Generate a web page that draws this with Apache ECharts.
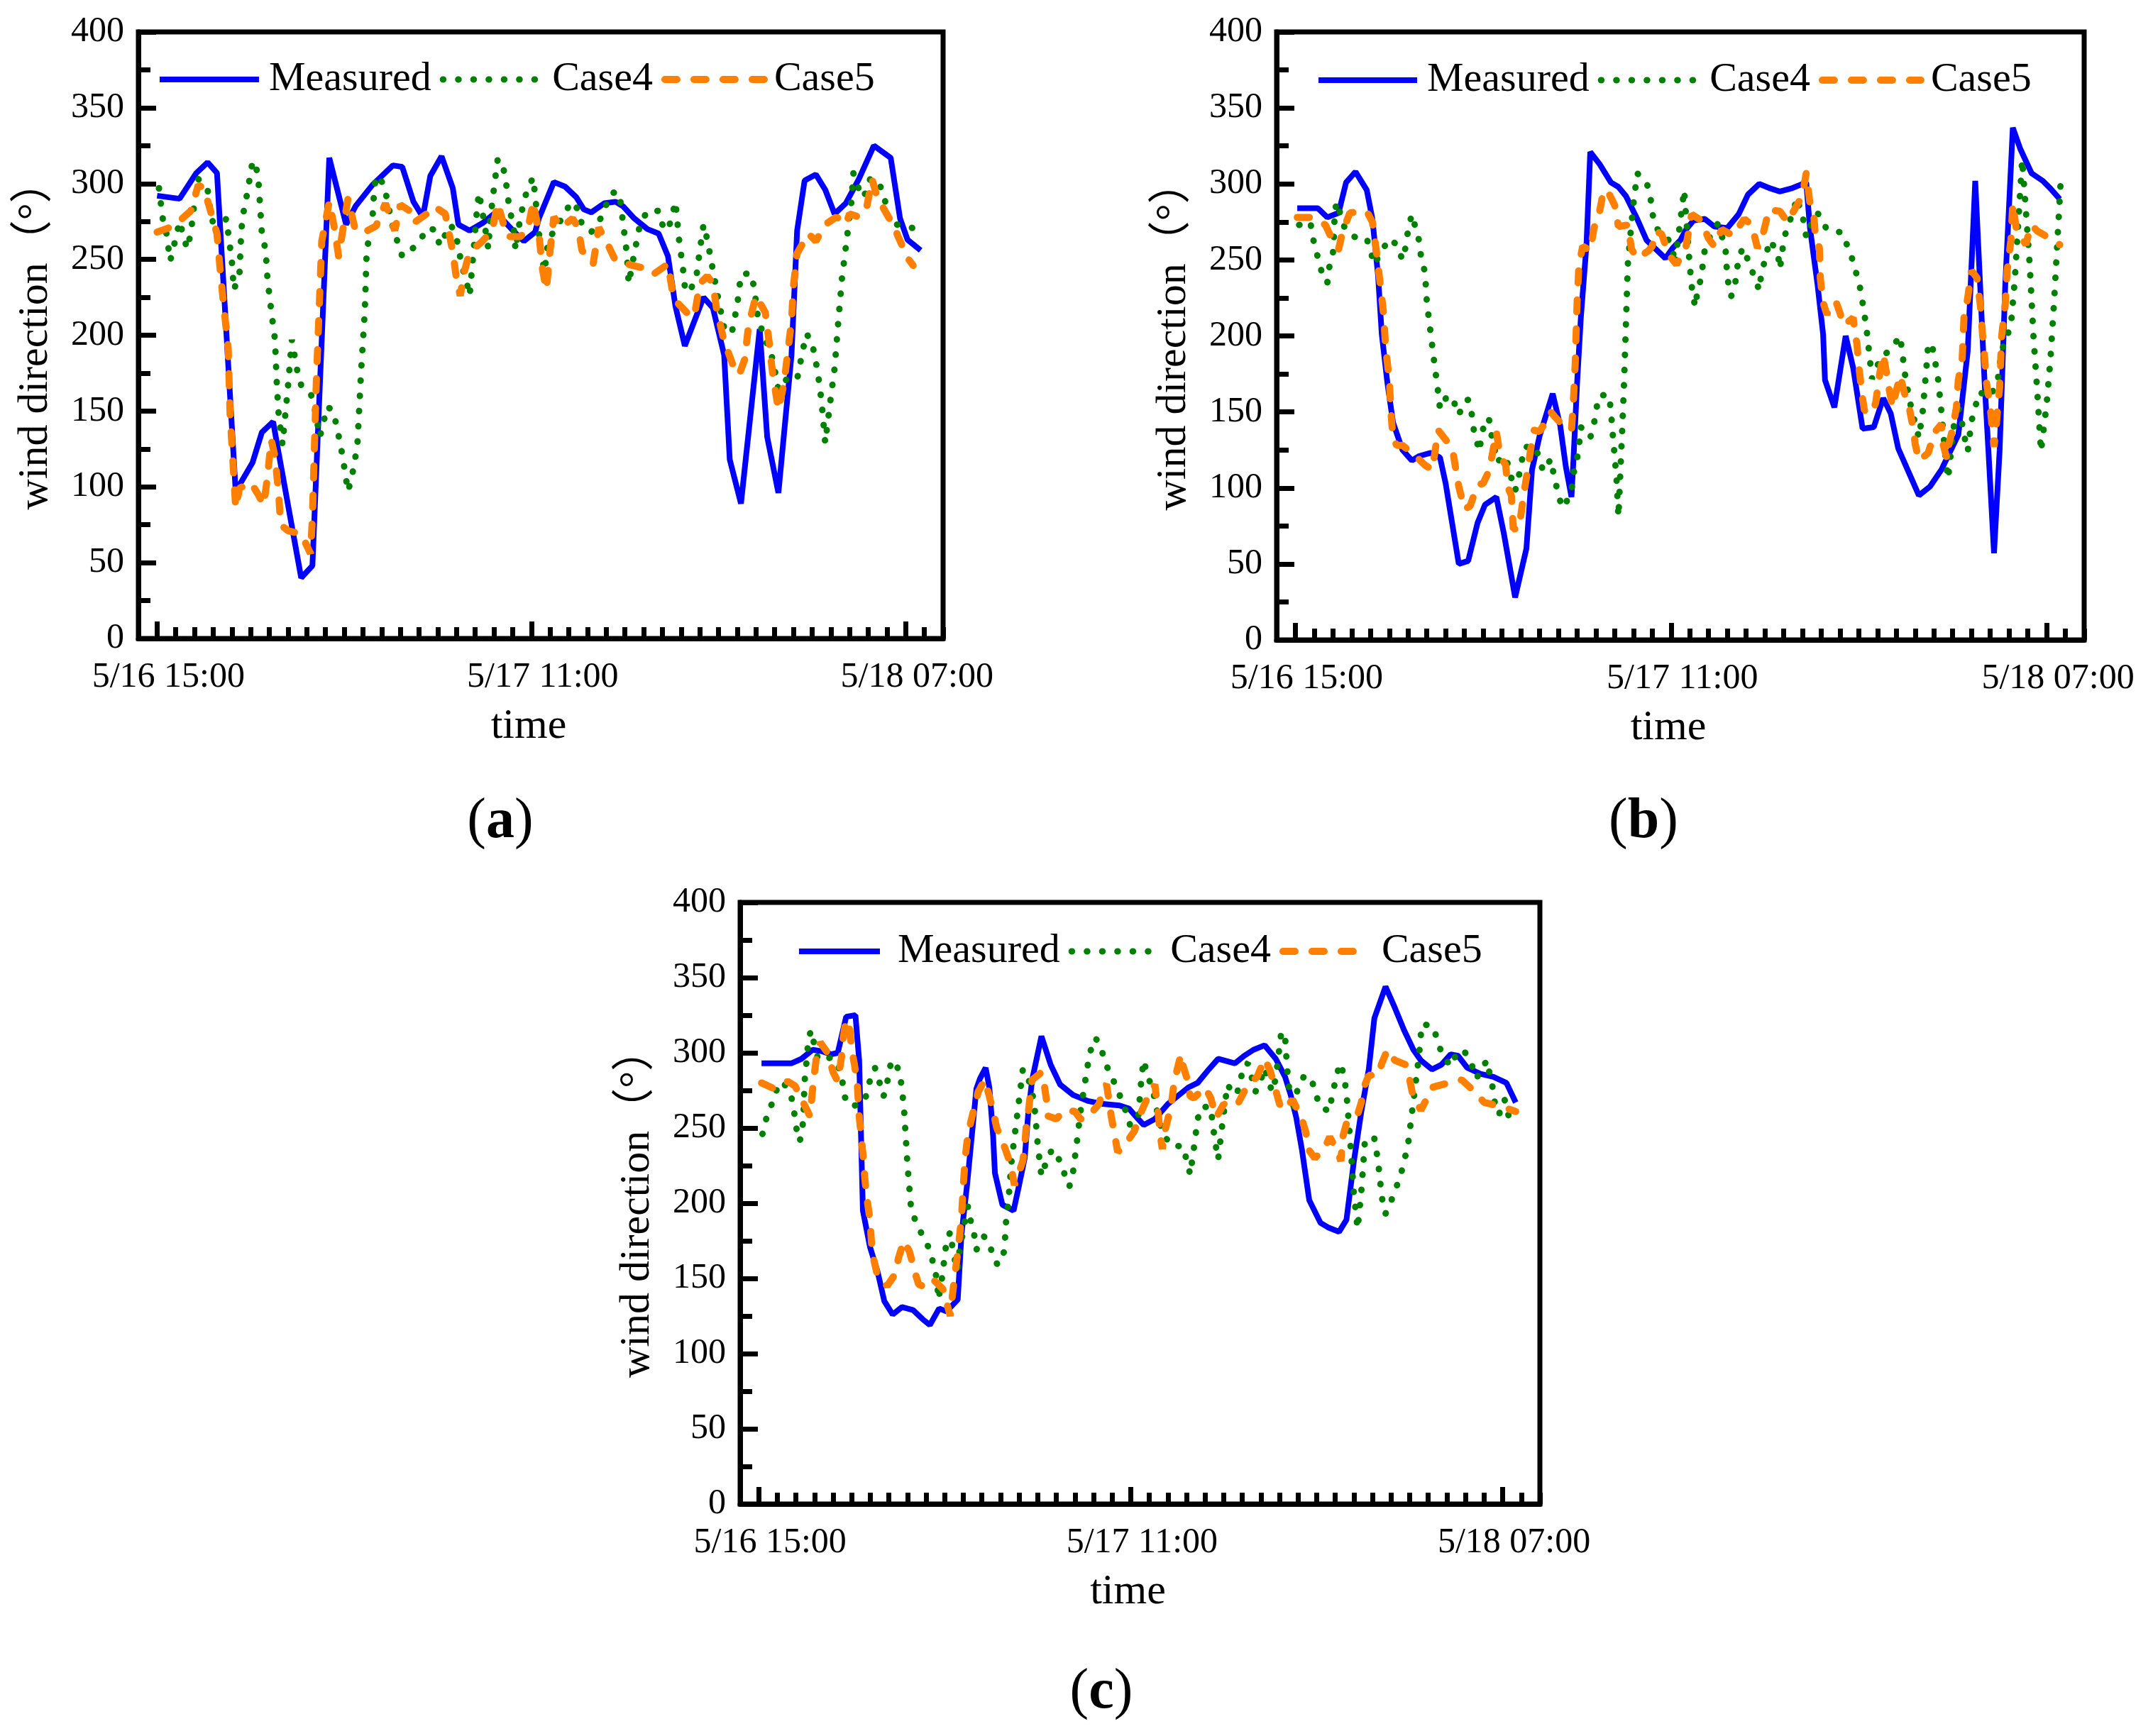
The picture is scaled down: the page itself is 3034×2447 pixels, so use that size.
<!DOCTYPE html>
<html lang="en">
<head>
<meta charset="UTF-8">
<title>wind direction</title>
<script src="https://cdn.jsdelivr.net/npm/echarts@6.0.0/dist/echarts.min.js"></script>
<style>
  html, body { margin: 0; padding: 0; background: #fff; }
  #main { width: 3034px; height: 2447px; }
</style>
</head>
<body>
<div id="main"></div>
<script type="text/javascript">
// x = hours after 5/16 15:00, y = wind direction (deg)
var seriesNames = ['Measured', 'Case4', 'Case5'];
var timeTickHours = [0, 20, 40];
var timeTickLabels = ['5/16 15:00', '5/17 11:00', '5/18 07:00'];
var panelLabels = ['a', 'b', 'c'];

// panel (a)
var aMeasured = [[0,292],[1.2,290],[2.1,307],[2.7,314],[3.2,307],[4.2,97],[5.1,116],[5.6,136],[6.2,143],[6.5,122],[7.7,40],[8.3,48],[9.2,317],[10.1,273],[10.6,285],[11.5,299],[12.6,312],[13.1,311],[13.7,288],[14.2,278],[14.6,305],[15.2,318],[15.8,297],[16.1,273],[16.7,269],[17.4,274],[18.1,281],[19.1,268],[19.6,262],[20.2,268],[20.4,277],[21.2,301],[21.8,298],[22.4,291],[22.8,283],[23.2,281],[23.9,287],[24.5,288],[24.9,285],[25.5,277],[26.2,270],[26.8,267],[27.3,252],[27.7,219],[28.2,193],[29.2,225],[29.7,218],[30.3,187],[30.6,118],[31.2,89],[32.2,204],[32.6,133],[33.2,96],[33.9,187],[34.2,269],[34.6,302],[35.2,306],[35.7,296],[36.2,280],[36.8,287],[37.5,303],[38.3,325],[39.2,317],[39.7,277],[40.1,263],[40.8,256]];
var aCase4 = [[0.1,297],[0.2,287],[0.3,277],[0.5,267],[0.7,249],[0.9,259],[1.2,275],[1.4,266],[1.6,257],[1.8,267],[2.0,288],[2.2,303],[2.7,296],[2.8,286],[3.1,267],[3.5,273],[3.7,277],[3.9,258],[4.0,248],[4.1,230],[4.4,240],[4.5,269],[4.6,280],[4.9,299],[5.0,310],[5.2,315],[5.4,305],[5.5,286],[5.6,267],[5.8,256],[5.9,237],[6.1,216],[6.3,197],[6.4,167],[6.5,147],[6.7,128],[7.0,167],[7.2,197],[7.5,176],[7.7,167],[8.2,162],[8.4,153],[8.7,133],[8.9,143],[9.1,153],[9.4,150],[9.6,140],[9.9,121],[10.2,97],[10.4,106],[10.7,127],[10.9,176],[11.1,216],[11.2,256],[11.5,275],[11.6,296],[11.7,305],[12.1,300],[12.3,289],[12.6,271],[13.1,252],[13.5,255],[14.0,262],[14.5,271],[14.9,269],[15.1,259],[15.3,264],[15.7,273],[16.0,264],[16.3,245],[16.5,237],[16.7,226],[16.9,254],[17.1,284],[17.2,294],[17.5,273],[17.7,257],[17.8,276],[18.0,297],[18.2,316],[18.4,315],[18.6,305],[18.8,286],[19.1,267],[19.15,256],[19.4,277],[19.6,288],[19.8,297],[20.1,304],[20.3,280],[20.5,256],[20.7,242],[20.9,262],[21.3,271],[21.8,280],[22.1,288],[22.5,283],[22.7,273],[23.2,268],[23.7,277],[24.0,286],[24.3,294],[24.7,294],[24.9,274],[25.1,254],[25.2,234],[25.5,254],[25.8,273],[26.2,282],[26.8,282],[27.0,273],[27.3,269],[27.5,278],[27.7,288],[27.9,262],[28.1,244],[28.2,232],[28.4,228],[28.8,237],[29.0,256],[29.2,273],[29.4,263],[29.7,243],[30.0,223],[30.3,205],[30.7,201],[31.0,220],[31.2,240],[31.7,241],[31.9,232],[32.1,212],[32.3,204],[32.9,184],[33.2,164],[33.7,172],[34.2,171],[34.5,190],[34.7,201],[35.0,195],[35.3,176],[35.5,157],[35.7,129],[36.0,159],[36.2,178],[36.4,209],[36.6,238],[36.8,258],[37.1,288],[37.2,307],[37.4,301],[37.6,291],[37.9,294],[38.1,303],[38.5,302],[38.8,294],[39.0,283],[39.1,274],[39.5,273],[40.1,272],[40.5,270]];
var aCase5 = [[0,268],[0.9,272],[1.8,282],[2.2,299],[2.5,297],[2.9,280],[3.2,267],[3.4,239],[3.8,191],[3.9,148],[4.1,107],[4.2,86],[4.4,99],[5.0,103],[5.4,95],[5.7,88],[5.9,107],[6.1,131],[6.3,120],[6.5,95],[6.6,75],[7.0,71],[7.7,69],[8.2,56],[8.3,80],[8.4,123],[8.5,166],[8.7,230],[8.8,262],[9.2,288],[9.5,269],[9.7,252],[10.0,275],[10.2,290],[10.6,269],[11.1,268],[11.7,272],[12.2,287],[12.7,269],[13.0,286],[13.5,282],[13.7,274],[14.4,280],[14.8,285],[15.4,280],[15.8,255],[16.0,237],[16.2,226],[16.4,241],[16.7,255],[17.3,261],[17.9,269],[18.2,287],[18.7,265],[19.4,265],[19.8,269],[20.1,288],[20.4,267],[20.6,243],[20.8,230],[21.0,256],[21.2,278],[21.6,271],[22.2,277],[22.5,271],[22.7,256],[23.3,247],[23.6,271],[24.0,262],[24.5,249],[25.1,247],[26.1,244],[26.5,240],[27.3,247],[27.6,224],[28.3,215],[28.7,212],[29.0,234],[29.4,239],[29.7,234],[29.9,217],[30.3,196],[30.9,176],[31.1,174],[31.4,184],[31.6,206],[32.0,226],[32.5,215],[32.7,196],[32.9,174],[33.2,151],[33.5,168],[33.7,189],[33.9,209],[34.0,232],[34.2,254],[34.8,267],[35.2,262],[35.7,273],[36.3,278],[36.8,273],[37.0,280],[37.5,278],[37.9,283],[38.2,303],[38.5,290],[38.8,284],[39.4,271],[39.6,265],[40.1,251],[40.4,246]];

// panel (b)
var bMeasured = [[0.1,284],[1.2,284],[1.7,278],[2.3,281],[2.7,301],[3.2,308],[3.8,296],[4.1,277],[4.4,240],[4.6,201],[4.9,169],[5.2,143],[5.7,125],[6.2,118],[6.6,121],[7.2,123],[7.7,120],[8.0,103],[8.7,50],[9.2,52],[9.7,77],[10.1,89],[10.7,94],[11.1,70],[11.7,28],[12.3,60],[12.6,112],[13.0,134],[13.7,162],[14.1,141],[14.4,114],[14.7,94],[14.8,117],[15.0,169],[15.2,212],[15.5,260],[15.7,321],[16.2,313],[16.8,301],[17.2,298],[17.6,292],[18.2,277],[18.7,263],[19.2,257],[19.7,251],[20.1,258],[20.5,263],[20.8,270],[21.2,276],[21.8,277],[22.3,272],[23.0,271],[23.6,280],[24.1,293],[24.7,300],[25.3,297],[25.8,295],[26.4,297],[27.2,301],[27.4,271],[27.8,234],[28.1,201],[28.2,171],[28.7,153],[29.3,200],[29.7,179],[30.2,139],[30.8,140],[31.3,159],[31.7,149],[32.1,126],[33.2,95],[33.8,101],[34.4,112],[35.3,135],[35.8,190],[36.2,302],[36.5,223],[36.7,169],[36.9,125],[37.2,57],[37.5,125],[37.8,234],[38.2,337],[38.6,323],[39.2,307],[39.8,302],[40.2,297],[40.7,290]];
var bCase4 = [[0.2,273],[0.8,275],[0.9,266],[1.1,256],[1.3,247],[1.5,237],[1.7,235],[1.8,245],[2.0,255],[2.05,264],[2.1,284],[2.3,288],[2.4,278],[2.7,269],[3.3,264],[3.8,264],[4.0,256],[4.2,247],[4.6,256],[5.0,264],[5.4,260],[5.7,250],[5.9,260],[6.0,270],[6.2,280],[6.4,271],[6.6,262],[6.7,251],[6.9,242],[7.0,222],[7.2,202],[7.4,182],[7.6,163],[7.7,152],[8.1,161],[8.4,158],[8.7,148],[9.0,157],[9.2,158],[9.4,148],[9.5,138],[9.8,124],[9.9,134],[10.1,144],[10.3,146],[10.4,137],[10.6,127],[10.7,117],[11.2,121],[11.4,111],[11.7,98],[11.9,108],[12.2,127],[12.8,127],[13.0,118],[13.2,111],[13.6,119],[13.8,106],[14.0,96],[14.2,87],[14.4,90],[14.7,98],[14.8,109],[15.0,119],[15.1,128],[15.2,140],[15.7,133],[15.9,142],[16.0,151],[16.2,161],[16.7,161],[16.8,151],[16.9,135],[17.0,121],[17.1,106],[17.2,81],[17.3,109],[17.4,138],[17.5,169],[17.6,208],[17.7,247],[17.85,268],[18.0,287],[18.2,307],[18.7,301],[18.9,292],[19.0,281],[19.2,271],[19.8,265],[20.1,256],[20.2,247],[20.4,266],[20.5,276],[20.6,286],[20.7,296],[21.0,246],[21.15,227],[21.3,219],[21.4,229],[21.6,238],[21.8,257],[22.1,266],[22.5,274],[22.9,258],[23.0,238],[23.2,226],[23.4,232],[23.5,244],[23.8,258],[24.1,250],[24.4,240],[24.7,230],[24.8,240],[25.0,250],[25.2,260],[25.3,263],[25.7,253],[25.8,244],[25.9,253],[26.0,263],[26.2,272],[26.5,281],[26.7,291],[27.1,274],[27.2,265],[27.4,272],[27.8,281],[28.0,277],[28.3,270],[29.1,268],[29.4,259],[29.7,249],[30.1,230],[30.4,206],[30.7,172],[30.9,176],[31.1,185],[31.7,191],[32.2,200],[32.5,171],[32.8,152],[33.2,133],[33.4,150],[33.6,179],[33.7,195],[33.9,194],[34.2,174],[34.4,150],[34.6,122],[34.75,106],[35.1,145],[35.2,156],[35.4,149],[35.7,129],[35.8,124],[36.0,144],[36.2,153],[36.4,163],[37.0,160],[37.4,171],[37.6,190],[38.1,207],[38.3,236],[38.5,276],[38.7,316],[38.9,282],[39.1,247],[39.3,200],[39.5,164],[39.7,124],[40.0,155],[40.2,184],[40.4,223],[40.6,268],[40.75,302]];
var bCase5 = [[0.1,278],[0.9,278],[1.6,273],[1.9,265],[2.3,257],[2.5,268],[2.9,281],[3.8,282],[4.1,275],[4.3,257],[4.5,236],[4.7,214],[4.8,193],[5.0,171],[5.1,148],[5.2,132],[5.4,128],[5.7,128],[6.4,121],[6.9,115],[7.3,112],[7.4,121],[7.6,138],[8.3,127],[8.4,123],[8.6,108],[8.7,101],[9.0,86],[9.3,88],[9.7,102],[10.0,103],[10.3,111],[10.5,123],[10.7,137],[10.9,121],[11.2,115],[11.3,101],[11.5,95],[11.6,73],[11.9,73],[12.2,99],[12.4,114],[12.5,123],[12.7,138],[13.0,137],[13.4,145],[13.6,150],[13.8,147],[14.1,143],[14.7,138],[14.8,156],[14.9,182],[15.0,222],[15.1,247],[15.3,259],[15.7,256],[15.9,271],[16.2,282],[16.4,295],[16.6,296],[17.0,286],[17.2,272],[17.7,273],[17.9,257],[18.2,251],[18.8,256],[19.0,259],[19.2,269],[19.5,267],[19.9,253],[20.3,247],[20.8,259],[21.1,280],[21.6,276],[22.0,264],[22.3,259],[22.7,270],[23.3,266],[23.9,277],[24.3,273],[24.6,258],[24.8,262],[25.1,277],[25.2,283],[25.8,282],[26.2,275],[26.8,288],[27.0,293],[27.2,307],[27.4,287],[27.6,280],[27.7,264],[27.9,258],[27.95,238],[28.1,222],[28.3,214],[28.5,221],[28.8,222],[29.0,215],[29.2,207],[29.7,212],[29.8,201],[29.9,195],[30.0,180],[30.2,159],[30.3,151],[30.7,149],[30.9,156],[31.1,174],[31.3,188],[31.4,181],[31.6,166],[31.8,153],[31.9,159],[32.2,174],[32.5,159],[32.7,152],[32.9,139],[33.0,129],[33.2,118],[33.7,123],[34.0,136],[34.4,142],[34.5,128],[34.7,119],[34.8,129],[35.0,139],[35.2,153],[35.3,171],[35.5,184],[35.55,197],[35.6,212],[35.8,225],[36.0,243],[36.3,238],[36.5,217],[36.6,199],[36.7,186],[36.8,169],[37.0,153],[37.2,127],[37.3,138],[37.4,153],[37.5,166],[37.55,181],[37.6,199],[37.8,221],[37.9,243],[38.1,263],[38.2,287],[38.4,269],[38.7,264],[38.9,260],[39.0,265],[39.2,273],[39.5,269],[40.2,264],[40.7,260]];

// panel (c)
var cMeasured = [[0.15,293],[1.75,293],[2.3,296],[2.9,302],[3.4,301],[3.9,299],[4.25,300],[4.7,324],[5.2,325],[5.4,295],[5.5,245],[5.6,195],[5.98,171],[6.4,154],[6.75,135],[7.2,126],[7.7,131],[8.3,129],[8.8,123],[9.2,119],[9.7,130],[10.1,128],[10.7,136],[10.9,179],[11.2,212],[11.7,276],[11.9,283],[12.2,290],[12.4,277],[12.6,245],[12.7,220],[13.1,199],[13.7,195],[14.0,212],[14.3,230],[14.5,261],[14.7,282],[15.2,311],[15.7,292],[16.2,279],[16.9,272],[17.7,268],[18.5,266],[19.4,265],[19.9,263],[20.4,256],[20.7,252],[21.3,256],[22.0,266],[22.7,273],[23.1,277],[23.6,280],[24.2,289],[24.7,296],[25.6,293],[26.1,298],[26.6,302],[27.2,305],[27.8,296],[28.3,284],[28.6,272],[28.9,257],[29.2,236],[29.6,202],[30.2,187],[30.6,184],[31.2,181],[31.6,189],[32.0,228],[32.4,261],[32.8,289],[33.1,323],[33.7,344],[34.2,330],[34.7,315],[35.2,302],[35.6,295],[36.2,289],[36.7,292],[37.2,299],[37.6,298],[38.1,290],[38.8,286],[39.5,284],[40.2,280],[40.7,267]];
var cCase4 = [[0.2,246],[0.4,256],[0.7,266],[0.95,275],[1.3,281],[1.75,271],[1.9,261],[2.0,251],[2.2,241],[2.3,246],[2.4,256],[2.45,277],[2.5,287],[2.6,297],[2.65,307],[2.8,315],[3.0,305],[3.2,295],[3.95,297],[4.3,290],[4.5,281],[4.6,271],[5.0,264],[5.7,268],[5.9,278],[6.1,287],[6.25,290],[6.5,280],[6.7,271],[6.8,274],[6.95,283],[7.1,293],[7.3,295],[7.6,286],[7.7,275],[7.8,265],[7.9,245],[8.0,225],[8.2,195],[8.55,185],[8.9,176],[9.25,168],[9.4,158],[9.6,149],[9.65,136],[9.8,145],[9.9,155],[10.1,175],[10.3,181],[10.4,172],[10.55,162],[10.7,155],[10.75,165],[10.9,175],[11.05,186],[11.25,198],[11.4,188],[11.6,178],[11.7,169],[12.1,178],[12.4,174],[12.6,164],[12.85,159],[13.2,168],[13.3,188],[13.4,198],[13.6,229],[13.8,249],[14.0,269],[14.2,289],[14.4,287],[14.6,278],[14.8,268],[14.9,254],[15.0,239],[15.2,218],[15.55,231],[15.8,236],[16.25,227],[16.5,217],[16.7,211],[16.9,221],[17.1,240],[17.3,261],[17.6,285],[17.8,300],[18.1,310],[18.4,304],[18.6,294],[18.95,285],[19.3,275],[19.6,266],[19.85,257],[20.1,246],[20.4,256],[20.5,272],[20.6,286],[20.7,295],[20.9,285],[21.2,275],[21.5,256],[21.75,246],[22.2,238],[22.8,238],[23.0,229],[23.2,219],[23.4,237],[23.6,256],[23.8,264],[24.3,264],[24.5,244],[24.7,229],[24.9,250],[25.1,269],[25.2,279],[25.4,275],[25.7,272],[25.9,282],[26.1,292],[26.3,293],[26.5,284],[26.7,274],[26.95,280],[27.2,290],[27.4,282],[27.6,274],[27.8,283],[28.0,304],[28.1,314],[28.3,311],[28.4,291],[28.55,272],[28.7,261],[28.8,267],[29.0,277],[29.3,284],[29.7,284],[29.9,274],[30.2,264],[30.7,261],[30.8,270],[31.0,281],[31.2,291],[31.3,293],[31.5,282],[31.6,273],[31.8,242],[32.0,206],[32.2,183],[32.4,208],[32.6,243],[33.1,243],[33.3,228],[33.5,204],[33.7,193],[33.9,198],[34.2,208],[34.5,218],[34.9,238],[35.1,258],[35.3,278],[35.5,298],[35.65,319],[36.2,318],[36.5,309],[36.7,300],[37.2,291],[37.5,299],[37.9,302],[38.3,293],[38.6,283],[38.9,291],[39.2,295],[39.3,285],[39.5,275],[39.6,264],[39.8,259],[40.1,269],[40.3,259],[40.5,249]];
var cCase5 = [[0.15,280],[0.85,276],[1.55,281],[1.95,278],[2.75,258],[2.95,282],[3.1,297],[3.3,307],[3.7,300],[4.0,287],[4.25,281],[4.45,297],[4.5,307],[4.7,322],[4.9,315],[5.0,302],[5.15,292],[5.3,279],[5.4,258],[5.6,233],[5.7,217],[5.8,205],[5.98,189],[6.1,167],[6.4,151],[6.9,145],[7.4,154],[7.5,163],[7.8,175],[8.1,168],[8.4,154],[8.6,146],[9.0,144],[9.4,149],[9.9,143],[10.1,134],[10.3,125],[10.35,132],[10.55,153],[10.7,167],[10.9,190],[11.0,212],[11.1,230],[11.2,241],[11.4,254],[11.6,264],[11.8,274],[12.15,282],[12.4,271],[12.6,261],[12.8,250],[13.05,243],[13.4,231],[13.6,222],[13.75,212],[14.2,228],[14.3,238],[14.4,254],[14.5,261],[14.65,277],[14.7,282],[15.2,287],[15.35,279],[15.5,266],[15.55,258],[16.0,256],[16.45,262],[17.0,261],[17.3,256],[17.6,256],[18.3,266],[18.5,276],[18.7,279],[18.8,271],[18.95,258],[19.1,248],[19.3,234],[19.7,239],[20.2,248],[20.5,259],[20.9,270],[21.3,279],[21.5,257],[21.6,244],[21.7,236],[21.8,246],[22.0,256],[22.2,267],[22.3,277],[22.5,289],[22.7,299],[22.8,292],[23.0,284],[23.2,271],[23.4,270],[24.0,277],[24.3,270],[24.6,257],[25.0,266],[25.5,264],[25.8,267],[26.3,279],[26.8,284],[27.2,296],[27.5,288],[27.8,275],[28.0,266],[28.3,262],[28.7,269],[29.2,256],[29.4,248],[29.6,235],[29.9,230],[30.4,236],[30.7,244],[31.1,235],[31.3,228],[31.4,244],[31.6,253],[32.2,259],[32.4,267],[32.6,279],[32.8,285],[33.3,285],[33.5,293],[33.8,302],[34.2,295],[34.8,292],[35.0,282],[35.2,270],[35.6,262],[35.9,269],[36.2,277],[37.1,280],[37.8,282],[38.5,274],[39.0,267],[40.0,264],[40.7,261]];

var panelData = [
    [aMeasured, aCase4, aCase5],
    [bMeasured, bCase4, bCase5],
    [cMeasured, cCase4, cCase5]
];

var FONT = "'Liberation Serif', 'Times New Roman', 'Noto Sans CJK SC', serif";
var BLACK = '#000';

// plot areas of the three panels
var grids = [
    { left: 195, top: 45, width: 1134, height: 855 },
    { left: 1799, top: 45, width: 1138, height: 857 },
    { left: 1043, top: 1272, width: 1127, height: 848 }
];
var legendPos = [
    { left: 221, top: 83, itemWidth: 140, pad: 9 },
    { left: 1854, top: 84, itemWidth: 139, pad: 9 },
    { left: 1122, top: 1312, itemWidth: 114, pad: 20 }
];
var labelPos = [[705, 1159], [2316, 1159], [1552, 2386]];

var lineStyles = [
    { color: '#0000ff', width: 8, type: 'solid' },
    { color: '#008000', width: 9, type: [0.5, 21], cap: 'round' },
    { color: '#ff8000', width: 10, type: [17, 24], cap: 'round' }
];

var tickLine = { color: BLACK, width: 7 };

var option = {
    animation: false,
    backgroundColor: '#fff',
    grid: [],
    xAxis: [],
    yAxis: [],
    legend: [],
    series: [],
    graphic: []
};

grids.forEach(function (g, i) {
    option.grid.push({
        left: g.left, top: g.top, width: g.width, height: g.height,
        show: true, borderColor: BLACK, borderWidth: 7, backgroundColor: 'transparent'
    });

    // hourly minor ticks, carries the data
    option.xAxis.push({
        type: 'value', gridIndex: i, min: -1, max: 42, interval: 1, position: 'bottom',
        axisLine: { show: true, onZero: false, lineStyle: { color: BLACK, width: 7 } },
        axisTick: { inside: true, length: 16, lineStyle: tickLine },
        axisLabel: { show: false },
        splitLine: { show: false }
    });
    // long ticks + date labels
    option.xAxis.push({
        type: 'value', gridIndex: i, min: -1, max: 42, position: 'bottom',
        axisLine: { show: false, onZero: false },
        axisTick: { inside: true, length: 24, customValues: timeTickHours, lineStyle: tickLine },
        axisLabel: {
            customValues: timeTickHours,
            formatter: function (v) { return timeTickLabels[timeTickHours.indexOf(v)]; },
            margin: 30, fontSize: 50, fontFamily: FONT, color: BLACK,
            padding: [0, 0, 0, 32]
        },
        splitLine: { show: false },
        name: 'time', nameLocation: 'middle', nameGap: 94,
        nameTextStyle: { fontSize: 60, fontFamily: FONT, color: BLACK, padding: [0, 34, 0, 0] }
    });

    option.yAxis.push({
        type: 'value', gridIndex: i, min: 0, max: 400, interval: 50,
        axisLine: { show: true, onZero: false, lineStyle: { color: BLACK, width: 7 } },
        axisTick: { inside: true, length: 25, lineStyle: tickLine },
        minorTick: { show: true, splitNumber: 2, length: 17, lineStyle: tickLine },
        axisLabel: { margin: 20, fontSize: 50, fontFamily: FONT, color: BLACK },
        splitLine: { show: false },
        name: 'wind direction（°）', nameLocation: 'middle', nameGap: 115, nameRotate: 90,
        nameTextStyle: { fontSize: 60, fontFamily: FONT, color: BLACK }
    });

    var lp = legendPos[i];
    option.legend.push({
        left: lp.left, top: lp.top, orient: 'horizontal', padding: 0,
        itemWidth: lp.itemWidth, itemHeight: 20, itemGap: 12, selectedMode: false,
        itemStyle: { color: 'transparent', borderWidth: 0, opacity: 0 },
        data: seriesNames.map(function (name, k) {
            return { name: name, lineStyle: { width: lineStyles[k].width } };
        }),
        textStyle: { fontSize: 58, fontFamily: FONT, color: BLACK, padding: [0, 0, 0, lp.pad] }
    });

    seriesNames.forEach(function (name, k) {
        option.series.push({
            name: name, type: 'line', xAxisIndex: i * 2, yAxisIndex: i,
            data: panelData[i][k], symbol: 'none', showSymbol: false,
            lineStyle: lineStyles[k], itemStyle: { color: lineStyles[k].color },
            z: 2 + k
        });
    });

    option.graphic.push({
        type: 'text', x: labelPos[i][0], y: labelPos[i][1],
        style: {
            text: '{p|(}{b|' + panelLabels[i] + '}{p|)}',
            align: 'center', verticalAlign: 'middle', fill: BLACK,
            rich: {
                p: { fontSize: 80, fontFamily: FONT, fontWeight: 'normal' },
                b: { fontSize: 80, fontFamily: FONT, fontWeight: 'bold' }
            }
        }
    });
});

var myChart = echarts.init(document.getElementById('main'));
myChart.setOption(option);
</script>
</body>
</html>
